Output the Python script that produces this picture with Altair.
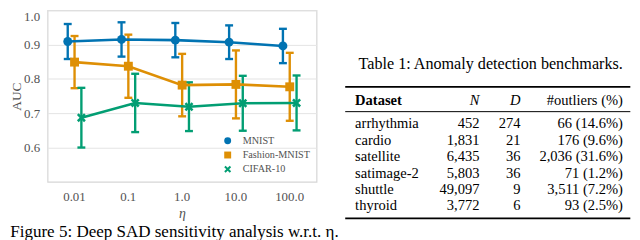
import altair as alt
import pandas as pd

# ---------------- data ----------------
eta_labels = ["0.01", "0.1", "1.0", "10.0", "100.0"]
series_names = ["MNIST", "Fashion-MNIST", "CIFAR-10"]
series_colors = ["#0173b2", "#de8f05", "#029e73"]

mnist_mean = [0.909, 0.915, 0.913, 0.907, 0.896]
mnist_sd = [0.051, 0.050, 0.050, 0.049, 0.050]
fashion_mean = [0.849, 0.837, 0.782, 0.784, 0.777]
fashion_sd = [0.076, 0.092, 0.091, 0.099, 0.099]
cifar_mean = [0.687, 0.730, 0.719, 0.729, 0.730]
cifar_sd = [0.087, 0.085, 0.071, 0.080, 0.080]

y_ticks = [0.6, 0.7, 0.8, 0.9, 1.0]

datasets = ["arrhythmia", "cardio", "satellite", "satimage-2", "shuttle", "thyroid"]
n_samples = ["452", "1,831", "6,435", "5,803", "49,097", "3,772"]
n_dims = ["274", "21", "36", "36", "9", "6"]
n_outliers = ["66 (14.6%)", "176 (9.6%)", "2,036 (31.6%)", "71 (1.2%)", "3,511 (7.2%)", "93 (2.5%)"]
header_labels = ["Dataset", "N", "D", "#outliers (%)"]

fig_caption = "Figure 5: Deep SAD sensitivity analysis w.r.t. \u03b7."
table_caption = "Table 1: Anomaly detection benchmarks."

# ---------------- styles ----------------
FONT = "Liberation Serif"
GREY = "#525252"
X_SHAPE = "M-1,-0.6L-0.6,-1L0,-0.4L0.6,-1L1,-0.6L0.4,0L1,0.6L0.6,1L0,0.4L-0.6,1L-1,0.6L-0.4,0Z"

records = []
for name, means, sds in zip(series_names, [mnist_mean, fashion_mean, cifar_mean],
                            [mnist_sd, fashion_sd, cifar_sd]):
    for e, m, s in zip(eta_labels, means, sds):
        records.append({"eta": e, "series": name, "mean": m, "lo": m - s, "hi": m + s})
df = pd.DataFrame(records)

x_enc = alt.X(
    "eta:N", sort=eta_labels,
    scale=alt.Scale(domain=eta_labels, paddingInner=0, paddingOuter=0),
    axis=alt.Axis(title="\u03b7", labelAngle=0, labelFont=FONT, labelFontSize=13,
                  labelColor=GREY, labelPadding=9, ticks=False, domain=False, grid=False,
                  titleFont=FONT, titleFontSize=14, titleFontStyle="italic",
                  titleFontWeight="normal", titleColor=GREY, titlePadding=3),
)
xo_enc = alt.XOffset(
    "series:N", sort=series_names,
    scale=alt.Scale(type="point", domain=series_names, range=[20.4, 34.2], padding=0),
)
y_scale = alt.Scale(domain=[0.5, 1.0], nice=False, zero=False)
y_axis = alt.Axis(title="AUC", values=y_ticks, format=".1f", labelFlush=True,
                  labelFont=FONT, labelFontSize=13, labelColor=GREY, labelPadding=8,
                  ticks=False, domain=False, grid=True, gridColor="#e4e4e4", gridWidth=1,
                  titleFont=FONT, titleFontSize=13.5, titleFontWeight="normal",
                  titleColor=GREY, titleX=-24.5)


def y_enc(field):
    return alt.Y(f"{field}:Q", scale=y_scale, axis=y_axis)


# stroke / fill scales take their domain from the (sorted) data so that their
# disabled legends are not merged with the real colour/shape legend
stroke_enc = alt.Stroke("series:N", sort=series_names,
                        scale=alt.Scale(range=series_colors), legend=None)
fill_enc = alt.Fill("series:N", sort=series_names,
                    scale=alt.Scale(range=series_colors), legend=None)
legend = alt.Legend(title=None, orient="none", legendX=177, legendY=126.8,
                    labelFont=FONT, labelFontSize=10.3, labelColor=GREY, symbolSize=49,
                    rowPadding=3.4, padding=0, labelOffset=10, symbolStrokeWidth=0)

base = alt.Chart(df)
err = base.mark_rule(strokeWidth=2.4).encode(x=x_enc, xOffset=xo_enc, y=y_enc("lo"),
                                               y2="hi:Q", stroke=stroke_enc)
cap_lo = base.mark_tick(size=8, thickness=2.4, opacity=1).encode(
    x=x_enc, xOffset=xo_enc, y=y_enc("lo"), fill=fill_enc)
cap_hi = base.mark_tick(size=8, thickness=2.4, opacity=1).encode(
    x=x_enc, xOffset=xo_enc, y=y_enc("hi"), fill=fill_enc)
lines = base.mark_line(strokeWidth=2.6).encode(x=x_enc, xOffset=xo_enc, y=y_enc("mean"),
                                                 stroke=stroke_enc)
points = base.mark_point(filled=True, size=81, opacity=1).encode(
    x=x_enc, xOffset=xo_enc, y=y_enc("mean"),
    color=alt.Color("series:N", sort=series_names,
                    scale=alt.Scale(domain=series_names, range=series_colors), legend=legend),
    shape=alt.Shape("series:N", sort=series_names,
                    scale=alt.Scale(domain=series_names, range=["circle", "square", X_SHAPE]),
                    legend=legend),
)
caption = alt.Chart(pd.DataFrame({"t": [fig_caption]})).mark_text(
    align="left", baseline="alphabetic", font=FONT, fontSize=17.2, color="black"
).encode(text="t:N", x=alt.value(-37.7), y=alt.value(229.1))

left = alt.layer(err, cap_lo, cap_hi, lines, points, caption).properties(
    width=272, height=173.5,
    view=alt.ViewBackground(stroke="#d6d6d6", strokeWidth=1.2),
)

# ---------------- table ----------------
tdf = pd.DataFrame({"dataset": datasets, "n": n_samples, "d": n_dims, "out": n_outliers})
row_y = alt.Y("dataset:N", sort=datasets,
              scale=alt.Scale(type="point", domain=datasets, range=[119.3, 202.3], padding=0),
              axis=None)
TFS = 14.7
tb = alt.Chart(tdf)
c_name = tb.mark_text(align="left", baseline="alphabetic", font=FONT, fontSize=TFS,
                      color="black").encode(x=alt.value(10.7), y=row_y, text="dataset:N")
c_n = tb.mark_text(align="right", baseline="alphabetic", font=FONT, fontSize=TFS,
                   color="black").encode(x=alt.value(136.5), y=row_y, text="n:N")
c_d = tb.mark_text(align="right", baseline="alphabetic", font=FONT, fontSize=TFS,
                   color="black").encode(x=alt.value(178), y=row_y, text="d:N")
c_o = tb.mark_text(align="right", baseline="alphabetic", font=FONT, fontSize=TFS,
                   color="black").encode(x=alt.value(281.5), y=row_y, text="out:N")

hdf = pd.DataFrame({"h": header_labels})
hb = alt.Chart(hdf)
h_name = hb.transform_filter(alt.datum.h == header_labels[0]).mark_text(
    align="left", baseline="alphabetic", font=FONT, fontSize=TFS, fontWeight="bold",
    color="black").encode(x=alt.value(10.7), y=alt.value(95.8), text="h:N")
h_n = hb.transform_filter(alt.datum.h == header_labels[1]).mark_text(
    align="right", baseline="alphabetic", font=FONT, fontSize=TFS, fontStyle="italic",
    color="black").encode(x=alt.value(136.5), y=alt.value(95.8), text="h:N")
h_d = hb.transform_filter(alt.datum.h == header_labels[2]).mark_text(
    align="right", baseline="alphabetic", font=FONT, fontSize=TFS, fontStyle="italic",
    color="black").encode(x=alt.value(178), y=alt.value(95.8), text="h:N")
h_o = hb.transform_filter(alt.datum.h == header_labels[3]).mark_text(
    align="right", baseline="alphabetic", font=FONT, fontSize=TFS,
    color="black").encode(x=alt.value(281.5), y=alt.value(95.8), text="h:N")

one = pd.DataFrame({"k": [0]})
rule_top = alt.Chart(one).mark_rule(color="black", strokeWidth=1.7).encode(
    x=alt.value(0.7), x2=alt.value(289), y=alt.value(77.5))
rule_mid = alt.Chart(one).mark_rule(color="black", strokeWidth=1.0).encode(
    x=alt.value(0.7), x2=alt.value(289), y=alt.value(102.5))
rule_bot = alt.Chart(one).mark_rule(color="black", strokeWidth=1.7).encode(
    x=alt.value(0.7), x2=alt.value(289), y=alt.value(210.5))
t_title = alt.Chart(pd.DataFrame({"t": [table_caption]})).mark_text(
    align="center", baseline="alphabetic", font=FONT, fontSize=16.3, color="black"
).encode(text="t:N", x=alt.value(147.8), y=alt.value(59.8))

right = alt.layer(t_title, rule_top, rule_mid, rule_bot, h_name, h_n, h_d, h_o,
                  c_name, c_n, c_d, c_o).properties(
    width=290, height=215, view=alt.ViewBackground(stroke="transparent"))

chart = alt.hconcat(left, right, spacing=28.3, bounds="flush").properties(
    padding=0, background="white")

chart.save("out.html", embed_options={"renderer": "svg", "actions": False})
